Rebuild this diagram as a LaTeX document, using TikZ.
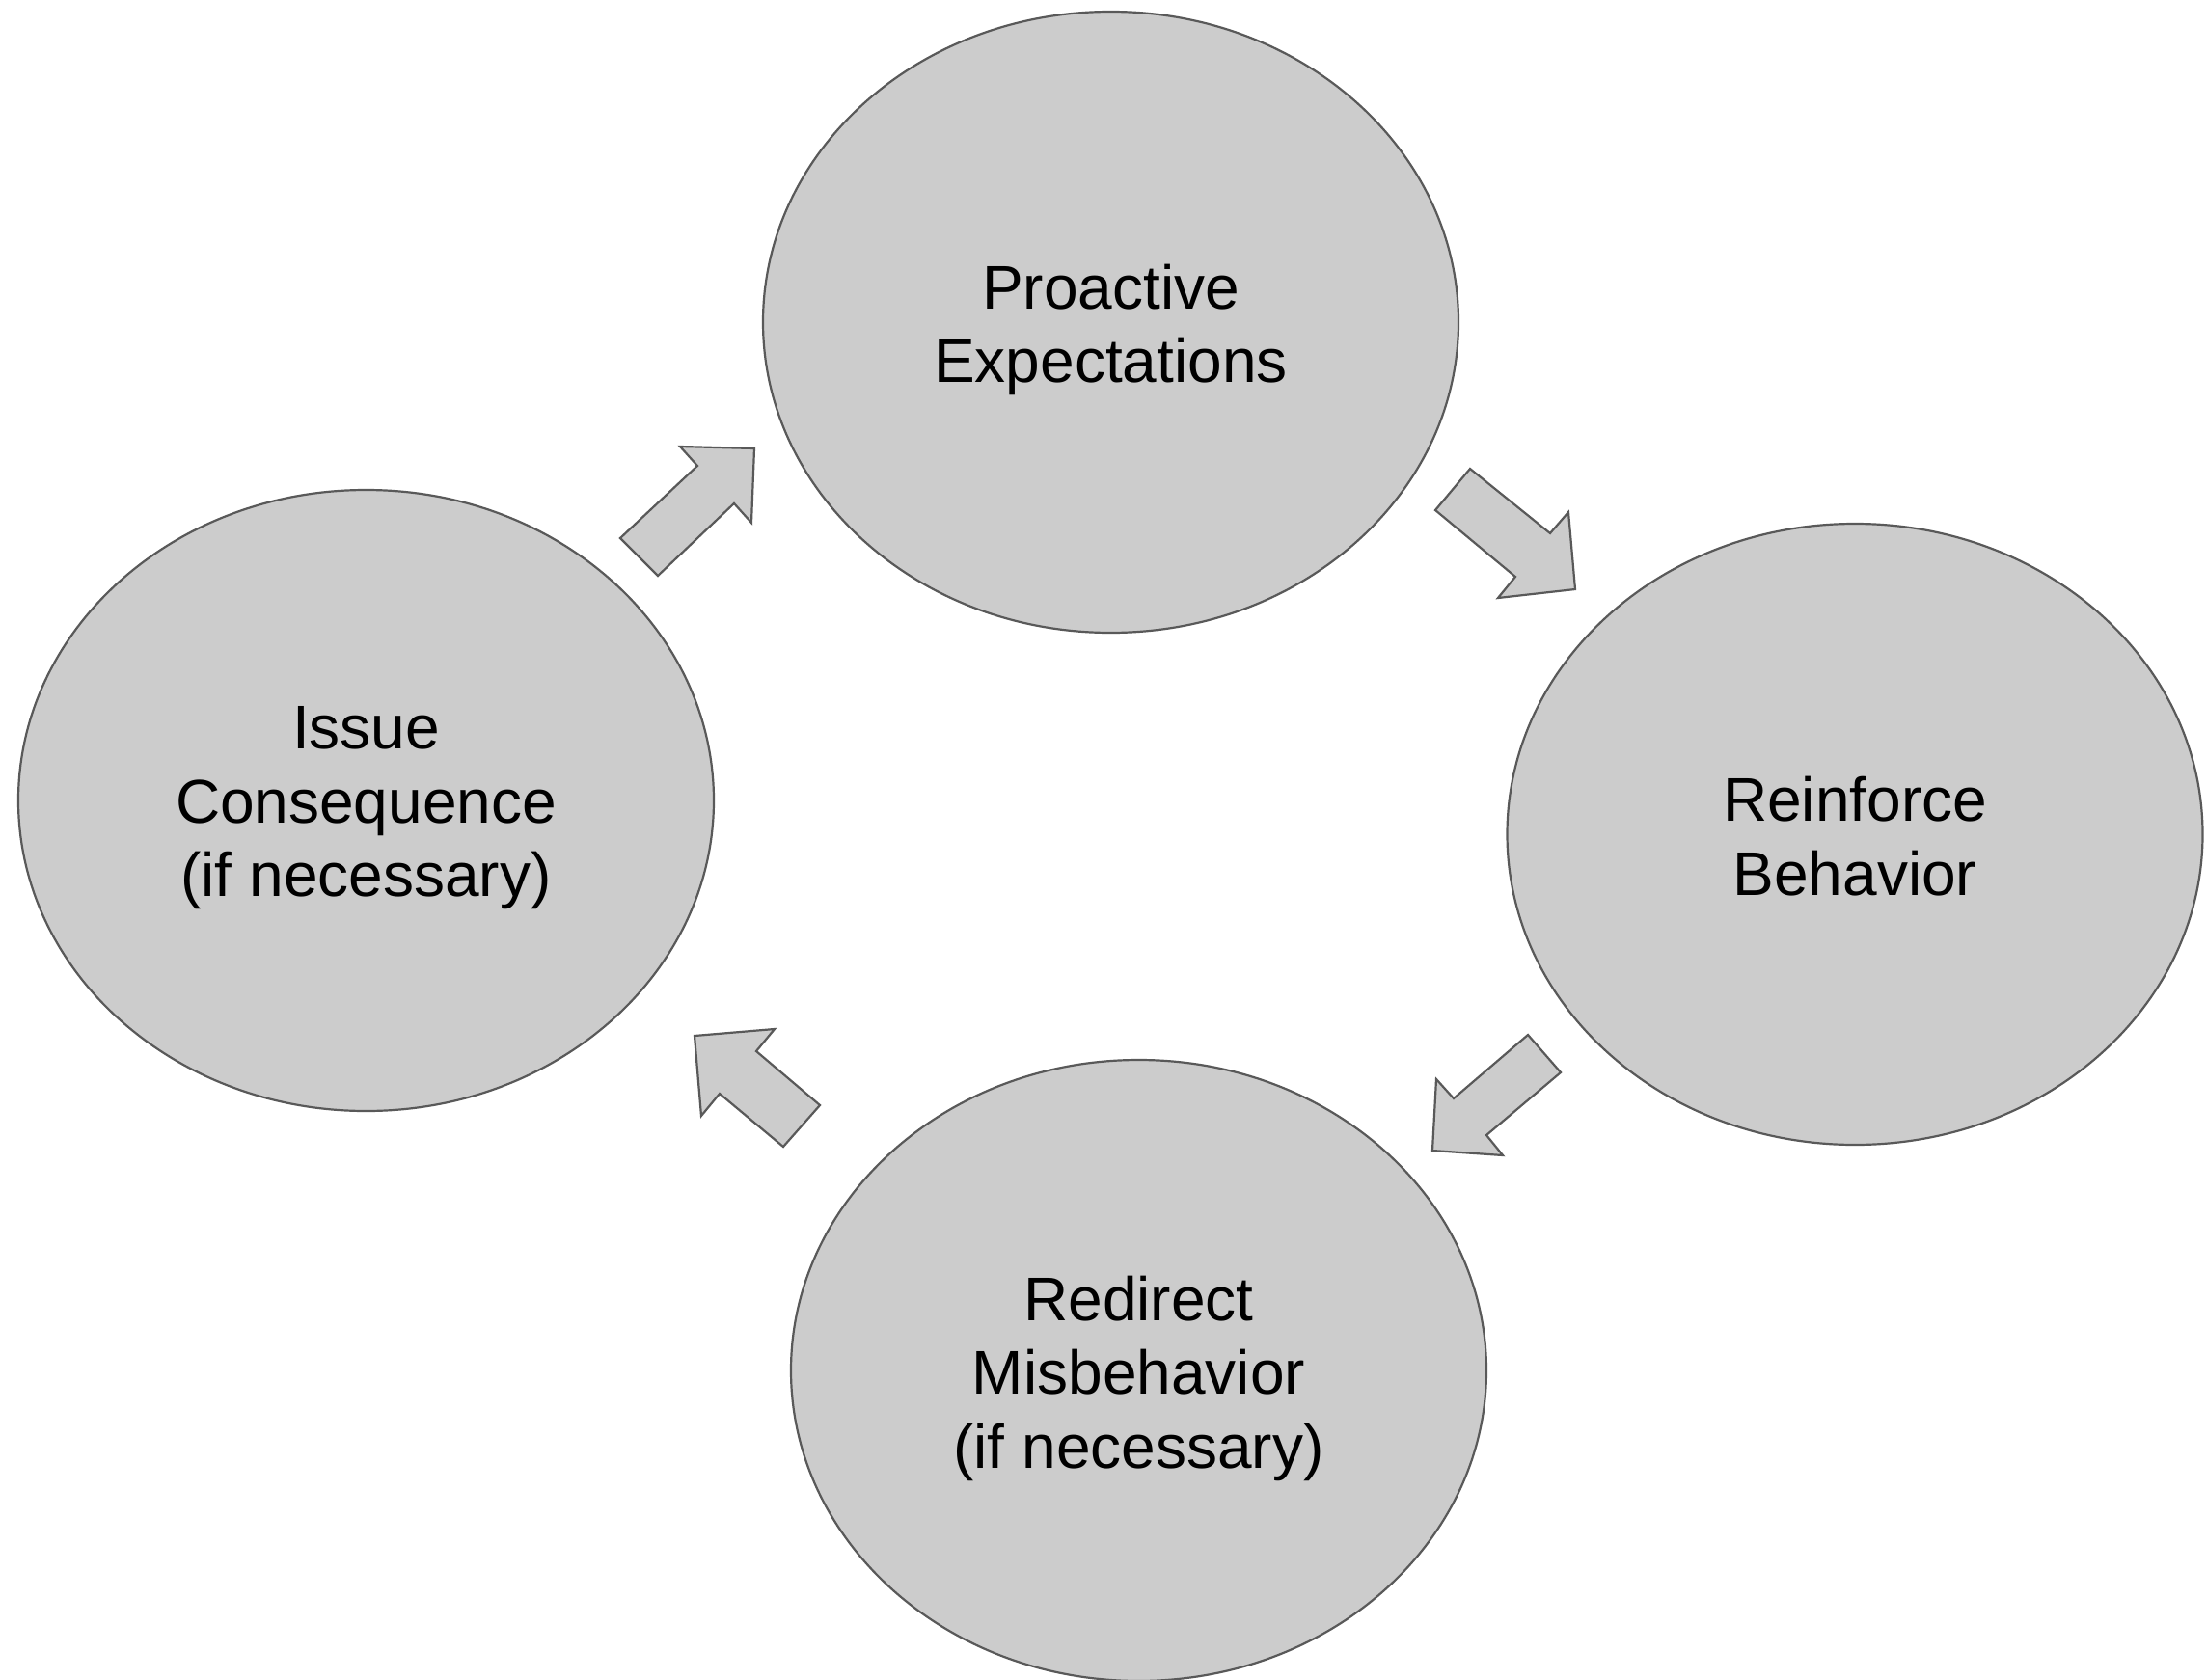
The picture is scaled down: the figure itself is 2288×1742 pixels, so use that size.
\documentclass[tikz,border=0pt]{standalone}
\usepackage{fontspec}
\setmainfont{Liberation Sans}
\usetikzlibrary{shapes.geometric}
\definecolor{shapefill}{HTML}{CCCCCC}
\definecolor{shapeline}{HTML}{595959}
\begin{document}
\begin{tikzpicture}[x=1pt,y=-1pt,
  stage/.style={ellipse, draw=shapeline, fill=shapefill, line width=2.2pt,
    minimum width=721pt, minimum height=644pt, inner sep=0pt, outer sep=0pt},
  stagetext/.style={align=center, inner sep=0pt, yshift=-8pt,
    font=\fontsize{64}{76.5}\selectfont},
  blockarrow/.style={draw=shapeline, fill=shapefill, line width=2.2pt, line join=miter}]
\useasboundingbox (0,0) rectangle (2288,1742);
\node[stage, label={[stagetext]center:Proactive\\Expectations}] (pro) at (1151.5,334) {};
\node[stage, label={[stagetext, yshift=6pt]center:Reinforce\\Behavior}] (rei) at (1923,865) {};
\node[stage, label={[stagetext]center:Redirect\\Misbehavior\\(if necessary)}] (red) at (1180.5,1421) {};
\node[stage, label={[stagetext]center:Issue\\Consequence\\(if necessary)}] (iss) at (379.5,830) {};
% block arrows
\draw[blockarrow] (643,558) -- (723,483) -- (705,463) -- (782,465) -- (779,542) -- (761,522) -- (682,597) -- cycle;
\draw[blockarrow] (1524,486) -- (1607,553) -- (1626,531) -- (1633,611) -- (1553,620) -- (1571,598) -- (1488,529) -- cycle;
\draw[blockarrow] (1584,1073) -- (1618,1112) -- (1541,1177) -- (1558,1198) -- (1485,1193) -- (1489,1119) -- (1507,1139) -- cycle;
\draw[blockarrow] (850,1146) -- (812,1189) -- (746,1134) -- (727,1157) -- (720,1074) -- (803,1067) -- (784,1090) -- cycle;
\end{tikzpicture}
\end{document}
